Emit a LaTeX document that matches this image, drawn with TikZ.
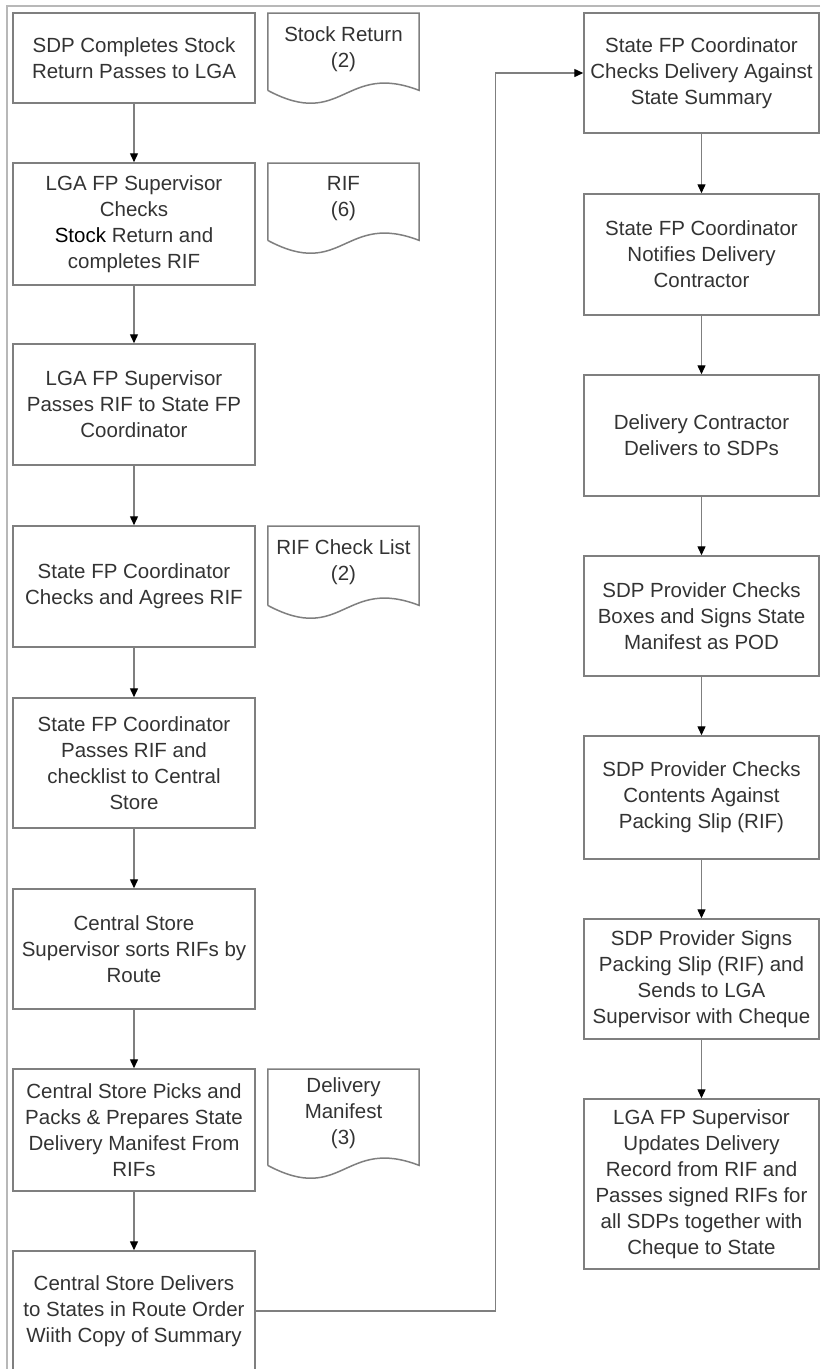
\documentclass[tikz,border=0pt]{standalone}
\usepackage{fontspec}
\setmainfont{Liberation Sans}
\usepackage{xcolor}
\usepackage{tikz}
\usetikzlibrary{arrows.meta}

\definecolor{borde}{HTML}{7F7F7F}
\definecolor{marco}{HTML}{B8B8B8}
\definecolor{texto}{HTML}{333333}

% hoja: nombre, arriba, alto, texto, margen del texto
\newcommand{\Hoja}[5]{%
  \node[hoja, minimum height=#3] (#1) at (343.5,#2) {};
  \draw[draw=borde, line width=1.5pt] (#1.south west) -- (#1.north west) -- (#1.north east) -- (#1.south east)
    .. controls +(-75pt,29pt) and +(75pt,-40pt) .. (#1.south west);
  \node[anchor=north, inner sep=0pt] (#1t) at ([yshift=-#5]#1.north) {#4};
}

\begin{document}
\begin{tikzpicture}[
x=1pt, y=1pt,
  every node/.style = {font=\fontsize{20.5}{26}\selectfont, text=texto, align=center},
  paso/.style={rectangle, draw=borde, line width=1.5pt, minimum width=242pt, inner sep=4pt},
  paso2/.style={paso, minimum width=235pt},
  hoja/.style={rectangle, minimum width=151pt, inner sep=0pt, anchor=north},
  flecha/.style={draw=borde, line width=1.4pt, -{Triangle[length=9pt,width=8pt,color=black]}}
]
  \useasboundingbox (0,0) rectangle (820,-1369);
  \draw[marco, line width=2pt] (820,-6) -- (7,-6) -- (7,-1369);

  % Nodos
  \node[paso, minimum height=90pt] (A) at (134,-58) {SDP Completes Stock\\Return Passes to LGA};
  \node[paso, minimum height=122pt] (B) at (134,-224) {LGA FP Supervisor\\Checks\\{\color{black}Stock} Return and\\completes RIF};
  \node[paso, minimum height=121pt] (C) at (134,-404.5) {LGA FP Supervisor\\Passes RIF to State FP\\Coordinator};
  \node[paso, minimum height=121pt] (D) at (134,-586.5) {State FP Coordinator\\Checks and Agrees RIF};
  \node[paso, minimum height=130pt] (E) at (134,-763) {State FP Coordinator\\Passes RIF and\\checklist to Central\\Store};
  \node[paso, minimum height=120pt] (F) at (134,-949) {Central Store\\Supervisor sorts RIFs by\\Route};
  \node[paso, minimum height=122pt] (G) at (134,-1130) {Central Store Picks and\\Packs \& Prepares State\\Delivery Manifest From\\RIFs};
  \node[paso, minimum height=120pt] (H) at (134,-1311) {Central Store Delivers\\to States in Route Order\\Wiith Copy of Summary};

  \node[paso2, minimum height=120pt] (I) at (701.5,-73) {State FP Coordinator\\Checks Delivery Against\\State Summary};
  \node[paso2, minimum height=121pt] (J) at (701.5,-254.5) {State FP Coordinator\\Notifies Delivery\\Contractor};
  \node[paso2, minimum height=121pt] (K) at (701.5,-435.5) {Delivery Contractor\\Delivers to SDPs};
  \node[paso2, minimum height=120pt] (L) at (701.5,-616) {SDP Provider Checks\\Boxes and Signs State\\Manifest as POD};
  \node[paso2, minimum height=123pt] (M) at (701.5,-797.5) {SDP Provider Checks\\Contents Against\\Packing Slip (RIF)};
  \node[paso2, minimum height=120pt] (N) at (701.5,-979) {SDP Provider Signs\\Packing Slip (RIF) and\\Sends to LGA\\Supervisor with Cheque};
  \node[paso2, minimum height=170pt] (O) at (701.5,-1184) {LGA FP Supervisor\\Updates Delivery\\Record from RIF and\\Passes signed RIFs for\\all SDPs together with\\Cheque to State};

  % Hojas
  \Hoja{SR}{-13}{77pt}{Stock Return\\(2)}{13pt}
  \Hoja{RF}{-163}{77pt}{RIF\\(6)}{13pt}
  \Hoja{CL}{-526}{79pt}{RIF Check List\\(2)}{13pt}
  \Hoja{DM}{-1069}{96pt}{Delivery\\Manifest\\(3)}{8pt}

  % Flechas
  \draw[flecha] (A) -- (B);
  \draw[flecha] (B) -- (C);
  \draw[flecha] (C) -- (D);
  \draw[flecha] (D) -- (E);
  \draw[flecha] (E) -- (F);
  \draw[flecha] (F) -- (G);
  \draw[flecha] (G) -- (H);
  \draw[flecha] (H.east) -- ++(240pt,0) |- (I.west);
  \draw[flecha] (I) -- (J);
  \draw[flecha] (J) -- (K);
  \draw[flecha] (K) -- (L);
  \draw[flecha] (L) -- (M);
  \draw[flecha] (M) -- (N);
  \draw[flecha] (N) -- (O);

\end{tikzpicture}
\end{document}
